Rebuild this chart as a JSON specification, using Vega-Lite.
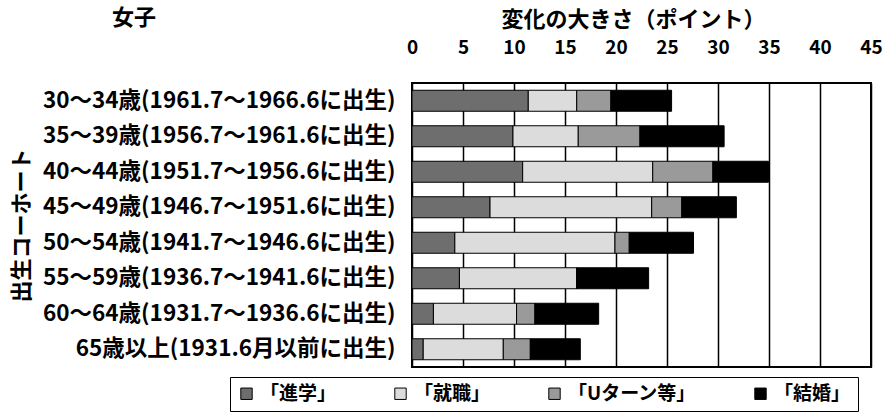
{
  "$schema": "https://vega.github.io/schema/vega-lite/v6.json",
  "width": 459,
  "height": 284,
  "autosize": {"type": "none"},
  "padding": {"left": 412, "top": 83, "right": 13, "bottom": 48},
  "background": "white",
  "title": {"text": "女子", "anchor": "start", "frame": "group", "dx": -300, "dy": 36, "fontSize": 22, "font": "Noto Sans CJK JP", "fontWeight": "bold", "color": "black", "baseline": "middle"},
  "data": {"values": [
    {"cohort": "30～34歳(1961.7～1966.6に出生)", "factor": "「進学」", "o": 1, "value": 11.4},
    {"cohort": "30～34歳(1961.7～1966.6に出生)", "factor": "「就職」", "o": 2, "value": 4.75},
    {"cohort": "30～34歳(1961.7～1966.6に出生)", "factor": "「Uターン等」", "o": 3, "value": 3.35},
    {"cohort": "30～34歳(1961.7～1966.6に出生)", "factor": "「結婚」", "o": 4, "value": 5.95},
    {"cohort": "35～39歳(1956.7～1961.6に出生)", "factor": "「進学」", "o": 1, "value": 9.9},
    {"cohort": "35～39歳(1956.7～1961.6に出生)", "factor": "「就職」", "o": 2, "value": 6.4},
    {"cohort": "35～39歳(1956.7～1961.6に出生)", "factor": "「Uターン等」", "o": 3, "value": 6.05},
    {"cohort": "35～39歳(1956.7～1961.6に出生)", "factor": "「結婚」", "o": 4, "value": 8.25},
    {"cohort": "40～44歳(1951.7～1956.6に出生)", "factor": "「進学」", "o": 1, "value": 10.85},
    {"cohort": "40～44歳(1951.7～1956.6に出生)", "factor": "「就職」", "o": 2, "value": 12.75},
    {"cohort": "40～44歳(1951.7～1956.6に出生)", "factor": "「Uターン等」", "o": 3, "value": 5.9},
    {"cohort": "40～44歳(1951.7～1956.6に出生)", "factor": "「結婚」", "o": 4, "value": 5.45},
    {"cohort": "45～49歳(1946.7～1951.6に出生)", "factor": "「進学」", "o": 1, "value": 7.65},
    {"cohort": "45～49歳(1946.7～1951.6に出生)", "factor": "「就職」", "o": 2, "value": 15.85},
    {"cohort": "45～49歳(1946.7～1951.6に出生)", "factor": "「Uターン等」", "o": 3, "value": 2.95},
    {"cohort": "45～49歳(1946.7～1951.6に出生)", "factor": "「結婚」", "o": 4, "value": 5.35},
    {"cohort": "50～54歳(1941.7～1946.6に出生)", "factor": "「進学」", "o": 1, "value": 4.2},
    {"cohort": "50～54歳(1941.7～1946.6に出生)", "factor": "「就職」", "o": 2, "value": 15.7},
    {"cohort": "50～54歳(1941.7～1946.6に出生)", "factor": "「Uターン等」", "o": 3, "value": 1.4},
    {"cohort": "50～54歳(1941.7～1946.6に出生)", "factor": "「結婚」", "o": 4, "value": 6.3},
    {"cohort": "55～59歳(1936.7～1941.6に出生)", "factor": "「進学」", "o": 1, "value": 4.65},
    {"cohort": "55～59歳(1936.7～1941.6に出生)", "factor": "「就職」", "o": 2, "value": 11.5},
    {"cohort": "55～59歳(1936.7～1941.6に出生)", "factor": "「Uターン等」", "o": 3, "value": 0},
    {"cohort": "55～59歳(1936.7～1941.6に出生)", "factor": "「結婚」", "o": 4, "value": 7.05},
    {"cohort": "60～64歳(1931.7～1936.6に出生)", "factor": "「進学」", "o": 1, "value": 2.1},
    {"cohort": "60～64歳(1931.7～1936.6に出生)", "factor": "「就職」", "o": 2, "value": 8.15},
    {"cohort": "60～64歳(1931.7～1936.6に出生)", "factor": "「Uターン等」", "o": 3, "value": 1.8},
    {"cohort": "60～64歳(1931.7～1936.6に出生)", "factor": "「結婚」", "o": 4, "value": 6.25},
    {"cohort": "65歳以上(1931.6月以前に出生)", "factor": "「進学」", "o": 1, "value": 1.1},
    {"cohort": "65歳以上(1931.6月以前に出生)", "factor": "「就職」", "o": 2, "value": 7.85},
    {"cohort": "65歳以上(1931.6月以前に出生)", "factor": "「Uターン等」", "o": 3, "value": 2.65},
    {"cohort": "65歳以上(1931.6月以前に出生)", "factor": "「結婚」", "o": 4, "value": 4.9}
  ]},
  "mark": {"type": "bar", "stroke": "black", "strokeWidth": 1},
  "encoding": {
    "y": {
      "field": "cohort", "type": "nominal", "sort": null,
      "scale": {"paddingInner": 0.4, "paddingOuter": 0.2},
      "axis": {
        "title": "出生コーホート", "titleFontSize": 22, "titleFont": "Noto Sans CJK JP", "titleFontWeight": "bold", "titleColor": "black",
        "titleX": -391, "titleY": 142, "titleAngle": 270, "titleBaseline": "middle", "titleAlign": "center",
        "labelFont": "Noto Sans CJK JP", "labelFontSize": 22.5, "labelFontWeight": "bold", "labelColor": "black",
        "labelPadding": 17, "ticks": false, "tickSize": 0, "domain": false, "labelLimit": 500
      }
    },
    "x": {
      "field": "value", "type": "quantitative", "stack": "zero",
      "scale": {"domain": [0, 45], "nice": false},
      "axis": {
        "orient": "top", "values": [0, 5, 10, 15, 20, 25, 30, 35, 40, 45],
        "title": "変化の大きさ（ポイント）", "titleFontSize": 22, "titleFont": "Noto Sans CJK JP", "titleFontWeight": "bold", "titleColor": "black",
        "titleY": -64, "titleX": 221, "titleBaseline": "middle",
        "labelFont": "Noto Sans CJK JP", "labelFontSize": 19, "labelFontWeight": "bold", "labelColor": "black",
        "labelBaseline": "alphabetic", "labelPadding": 30, "ticks": false, "tickSize": 0, "domain": false,
        "grid": true, "gridColor": "black", "gridWidth": 1.5, "gridOpacity": 1, "labelFlush": false
      }
    },
    "color": {
      "field": "factor", "type": "nominal",
      "scale": {"domain": ["「進学」", "「就職」", "「Uターン等」", "「結婚」"], "range": ["#6e6e6e", "#dcdcdc", "#9a9a9a", "#000000"]},
      "legend": {
        "title": null, "orient": "none", "legendX": -182, "legendY": 294, "direction": "horizontal",
        "strokeColor": "black", "padding": 7,
        "labelFont": "Noto Sans CJK JP", "labelFontSize": 19, "labelFontWeight": "bold", "labelColor": "black",
        "symbolType": "square", "symbolSize": 130, "symbolStrokeColor": "black", "symbolStrokeWidth": 1,
        "columnPadding": 54, "labelOffset": 4, "labelLimit": 300
      }
    },
    "order": {"field": "o", "type": "quantitative"}
  },
  "config": {
    "view": {"stroke": "black", "strokeWidth": 2},
    "bar": {"discreteBandSize": 21},
    "legend": {"padding": 7}
  }
}
